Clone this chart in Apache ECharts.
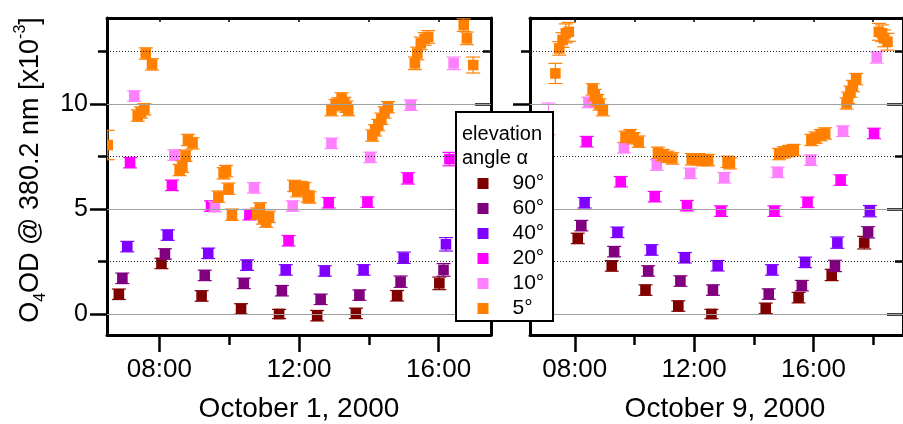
<!DOCTYPE html>
<html>
<head>
<meta charset="utf-8">
<script src="https://cdn.jsdelivr.net/npm/echarts@6/dist/echarts.min.js"></script>
<style>
html,body{margin:0;padding:0;background:#fff;}
#chart{width:903px;height:424px;}
</style>
</head>
<body>
<div id="chart"></div>
<script>
// ---------------- data (hour of day, O4 OD x1e-3, error) ----------------
const angleNames = ['90°', '60°', '40°', '20°', '10°', '5°'];
const angleColors = ['#800000', '#800080', '#8000ff', '#ff00ff', '#ff80ff', '#ff8000'];

const oct1_a90 = [[6.84,0.94,0.25],[8.06,2.41,0.25],[9.21,0.86,0.25],[10.34,0.24,0.25],[11.43,0.0,0.22],[12.52,-0.08,0.25],[13.63,0.03,0.25],[14.81,0.87,0.25],[16.02,1.46,0.3]];
const oct1_a60 = [[6.94,1.70,0.25],[8.16,2.86,0.25],[9.30,1.84,0.25],[10.42,1.46,0.25],[11.51,1.11,0.25],[12.62,0.70,0.25],[13.73,0.90,0.25],[14.91,1.54,0.27],[16.14,2.10,0.3]];
const oct1_a40 = [[7.08,3.21,0.25],[8.24,3.76,0.25],[9.40,2.89,0.25],[10.51,2.33,0.25],[11.62,2.10,0.25],[12.74,2.05,0.25],[13.85,2.10,0.25],[15.00,2.68,0.27],[16.21,3.32,0.32]];
const oct1_a20 = [[7.16,7.21,0.25],[8.36,6.13,0.25],[9.48,5.14,0.25],[10.58,4.73,0.25],[11.70,3.49,0.25],[12.85,5.30,0.25],[13.96,5.33,0.25],[15.12,6.46,0.27],[16.31,7.38,0.32]];
const oct1_a10 = [[7.28,10.38,0.25],[8.43,7.57,0.25],[9.59,5.11,0.25],[10.71,6.01,0.25],[11.82,5.14,0.25],[12.93,8.13,0.25],[14.04,7.46,0.25],[15.20,9.95,0.25],[16.43,11.94,0.3]];
const oct1_a5 = [[6.52,8.05,0.7],[7.38,9.45,0.27],[7.47,9.6,0.27],[7.57,9.75,0.27],[7.61,12.41,0.27],[7.79,11.89,0.27],
  [8.58,6.86,0.27],[8.66,7.02,0.27],[8.75,7.54,0.27],[8.82,8.29,0.27],[8.95,8.13,0.27],
  [9.69,5.59,0.27],[9.84,6.70,0.27],[9.91,6.81,0.27],[9.98,5.97,0.27],[10.08,4.73,0.27],
  [10.80,4.78,0.27],[10.88,5.03,0.27],[10.97,4.55,0.27],[11.06,4.40,0.27],[11.14,4.63,0.27],
  [11.86,6.10,0.27],[11.95,5.85,0.27],[12.05,6.05,0.27],[12.15,6.00,0.27],[12.25,5.60,0.27],[12.30,5.55,0.27],
  [12.93,9.71,0.27],[13.05,9.95,0.27],[13.12,10.03,0.27],[13.22,10.27,0.27],[13.30,10.05,0.27],[13.36,9.87,0.27],[13.41,9.71,0.27],
  [14.10,8.50,0.27],[14.18,8.75,0.27],[14.27,9.00,0.27],[14.36,9.30,0.27],[14.45,9.60,0.27],[14.55,9.85,0.27],
  [15.32,11.94,0.3],[15.39,12.41,0.3],[15.49,12.89,0.3],[15.60,13.10,0.3],[15.70,13.20,0.3],
  [16.72,13.76,0.3],[16.81,13.13,0.3],[16.99,11.86,0.38]];

const oct9_a90 = [[8.10,3.60,0.25],[9.24,2.29,0.25],[10.37,1.14,0.25],[11.47,0.38,0.25],[12.58,0.0,0.22],[14.40,0.27,0.25],[15.50,0.78,0.25],[16.61,1.86,0.27],[17.70,3.40,0.3]];
const oct9_a60 = [[8.22,4.21,0.25],[9.32,2.97,0.25],[10.46,2.05,0.25],[11.54,1.57,0.25],[12.63,1.14,0.25],[14.50,0.95,0.25],[15.61,1.35,0.25],[16.72,2.29,0.27],[17.83,3.89,0.27]];
const oct9_a40 = [[8.33,5.30,0.25],[9.43,3.89,0.25],[10.57,3.05,0.25],[11.69,2.68,0.25],[12.79,2.30,0.25],[14.61,2.10,0.25],[15.72,2.46,0.25],[16.80,3.40,0.27],[17.89,4.90,0.27]];
const oct9_a20 = [[8.40,8.21,0.25],[9.54,6.30,0.25],[10.68,5.59,0.25],[11.76,5.16,0.25],[12.90,4.90,0.25],[14.69,4.90,0.25],[15.80,5.32,0.25],[16.91,6.38,0.25],[18.03,8.60,0.25]];
const oct9_a10 = [[7.12,9.30,0.75],[8.46,10.08,0.25],[9.65,7.92,0.25],[10.75,7.10,0.25],[11.87,6.70,0.25],[13.01,6.49,0.25],[14.80,6.75,0.25],[15.91,7.33,0.25],[16.99,8.71,0.25],[18.12,12.22,0.27]];
const oct9_a5 = [[7.35,11.46,0.48],[7.48,12.65,0.32],[7.59,13.05,0.35],[7.70,13.37,0.45],[7.80,13.44,0.45],
  [8.60,10.70,0.27],[8.67,10.43,0.27],[8.76,10.19,0.27],[8.83,9.98,0.27],[8.94,9.71,0.27],
  [9.70,8.44,0.27],[9.86,8.52,0.27],[9.97,8.37,0.27],[10.14,8.21,0.27],
  [10.79,7.68,0.27],[10.95,7.57,0.27],[11.11,7.49,0.27],[11.27,7.41,0.27],
  [11.92,7.37,0.27],[12.14,7.37,0.27],[12.30,7.33,0.27],[12.47,7.33,0.27],[13.12,7.25,0.27],[13.20,7.18,0.27],
  [14.85,7.62,0.27],[15.01,7.70,0.27],[15.18,7.76,0.27],[15.34,7.81,0.27],
  [15.93,8.29,0.27],[16.07,8.40,0.27],[16.24,8.52,0.27],[16.39,8.60,0.27],
  [17.11,10.03,0.27],[17.16,10.30,0.27],[17.24,10.59,0.27],[17.32,10.86,0.27],[17.43,11.19,0.27],
  [18.19,13.44,0.4],[18.30,13.37,0.4],[18.37,13.13,0.4],[18.48,12.97,0.4]];

const oct1Series = [oct1_a90, oct1_a60, oct1_a40, oct1_a20, oct1_a10, oct1_a5];
const oct9Series = [oct9_a90, oct9_a60, oct9_a40, oct9_a20, oct9_a10, oct9_a5];

const xMajorTicks = [8, 12, 16];
const xMinorTicksL = [10, 14];
const xMinorTicksR = [10, 14, 18];
const xTopTicksL = [8, 10, 12, 14, 16];
const xTopTicksR = [8, 10, 12, 14, 16, 18];
const yMajorTicks = [0, 5, 10];
const yMinorTicks = [2.5, 7.5, 12.5];
const panelTitles = ['October 1, 2000', 'October 9, 2000'];

// ---------------- chart ----------------
const FONT = '"Liberation Sans", Arial, Helvetica, sans-serif';
const chart = echarts.init(document.getElementById('chart'), null, {renderer: 'canvas'});

const grids = [
  {left: 107, top: 18, width: 384, height: 317},
  {left: 530, top: 18, width: 384, height: 317}
];
const xRanges = [[6.5, 17.5], [6.5, 19.0]];
const yRange = [-1, 14.1];
const fmtHour = v => (v < 10 ? '0' : '') + v + ':00';

const xAxes = [], yAxes = [];
[0, 1].forEach(g => {
  const [mn, mx] = xRanges[g];
  // bottom major
  xAxes.push({type: 'value', gridIndex: g, position: 'bottom', min: mn, max: mx,
    axisLine: {show: true, onZero: false, lineStyle: {color: '#000', width: 3}},
    axisTick: {show: true, inside: false, length: 17, customValues: xMajorTicks, lineStyle: {color: '#000', width: 2.5}},
    axisLabel: {show: true, customValues: xMajorTicks, formatter: fmtHour, margin: 22, color: '#000', fontSize: 26, fontFamily: FONT},
    splitLine: {show: false}});
  // bottom minor
  xAxes.push({type: 'value', gridIndex: g, position: 'bottom', min: mn, max: mx,
    axisLine: {show: false, onZero: false},
    axisTick: {show: true, inside: false, length: 10, customValues: g === 0 ? xMinorTicksL : xMinorTicksR, lineStyle: {color: '#000', width: 2.5}},
    axisLabel: {show: false}, splitLine: {show: false}});
  // top
  xAxes.push({type: 'value', gridIndex: g, position: 'top', min: mn, max: mx,
    axisLine: {show: true, onZero: false, lineStyle: {color: '#000', width: 3}},
    axisTick: {show: true, inside: true, length: 4, customValues: g === 0 ? xTopTicksL : xTopTicksR, lineStyle: {color: '#000', width: 1.5}},
    axisLabel: {show: false}, splitLine: {show: false}});

  // left major
  yAxes.push({type: 'value', gridIndex: g, position: 'left', min: yRange[0], max: yRange[1],
    axisLine: {show: true, onZero: false, lineStyle: {color: '#000', width: 3}},
    axisTick: {show: true, inside: false, length: 17, customValues: yMajorTicks, lineStyle: {color: '#000', width: 2.5}},
    axisLabel: {show: g === 0, customValues: yMajorTicks, margin: 19, color: '#000', fontSize: 25, fontFamily: FONT},
    splitLine: {show: false}});
  // left minor
  yAxes.push({type: 'value', gridIndex: g, position: 'left', min: yRange[0], max: yRange[1],
    axisLine: {show: false, onZero: false},
    axisTick: {show: true, inside: false, length: 9, customValues: yMinorTicks, lineStyle: {color: '#000', width: 2.5}},
    axisLabel: {show: false}, splitLine: {show: false}});
  // right major
  yAxes.push({type: 'value', gridIndex: g, position: 'right', min: yRange[0], max: yRange[1],
    axisLine: {show: true, onZero: false, lineStyle: {color: '#000', width: 3}},
    axisTick: {show: true, inside: true, length: 16, customValues: yMajorTicks, lineStyle: {color: '#000', width: 2.5}},
    axisLabel: {show: false}, splitLine: {show: false}});
  // right minor
  yAxes.push({type: 'value', gridIndex: g, position: 'right', min: yRange[0], max: yRange[1],
    axisLine: {show: false, onZero: false},
    axisTick: {show: true, inside: true, length: 8, customValues: yMinorTicks, lineStyle: {color: '#000', width: 2.5}},
    axisLabel: {show: false}, splitLine: {show: false}});
});

function renderErr(params, api) {
  const x = api.value(0), y = api.value(1), e = api.value(2);
  const c = api.coord([x, y]);
  const t = api.coord([x, y + e]);
  const b = api.coord([x, y - e]);
  const color = api.visual('color');
  const cw = 7, s = 5.3;
  const ls = {stroke: color, lineWidth: 1.2};
  return {
    type: 'group',
    children: [
      {type: 'line', shape: {x1: c[0], y1: t[1], x2: c[0], y2: b[1]}, style: ls},
      {type: 'line', shape: {x1: c[0] - cw, y1: t[1], x2: c[0] + cw, y2: t[1]}, style: ls},
      {type: 'line', shape: {x1: c[0] - cw, y1: b[1], x2: c[0] + cw, y2: b[1]}, style: ls},
      {type: 'rect', shape: {x: c[0] - s, y: c[1] - s, width: 2 * s, height: 2 * s}, style: {fill: color}}
    ]
  };
}

const series = [];
[0, 1].forEach(g => {
  const xi = g * 3, yi = g * 4;
  // grid lines
  series.push({type: 'line', xAxisIndex: xi, yAxisIndex: yi, data: [], silent: true, z: 1,
    markLine: {silent: true, symbol: ['none', 'none'], label: {show: false}, animation: false,
      data: yMajorTicks.map(v => ({yAxis: v, lineStyle: {color: '#a0a0a0', width: 1.2, type: 'solid'}}))
        .concat(yMinorTicks.map(v => ({yAxis: v, lineStyle: {color: '#222', width: 1, type: [1, 2]}})))}});
  const sets = g === 0 ? oct1Series : oct9Series;
  sets.forEach((d, i) => {
    series.push({type: 'custom', name: angleNames[i], xAxisIndex: xi, yAxisIndex: yi,
      data: d, encode: {x: 0, y: 1}, renderItem: renderErr, clip: true, z: 2,
      itemStyle: {color: angleColors[i]}});
  });
});

const option = {
  animation: false,
  backgroundColor: '#fff',
  grid: grids,
  xAxis: xAxes,
  yAxis: yAxes,
  series: series,
  legend: {
    data: angleNames.map(n => ({name: n, icon: 'rect'})),
    orient: 'vertical', left: 477.5, top: 171, padding: 0, itemWidth: 11, itemHeight: 11, itemGap: 0,
    z: 60, selectedMode: false,
    textStyle: {fontSize: 21, lineHeight: 25, color: '#000', fontFamily: FONT, padding: [0, 0, 0, 19]}
  },
  graphic: [
    {type: 'text', x: 31, y: 170, rotation: Math.PI / 2, z: 10,
      style: {text: '{a|O}{s|4}{a|OD @ 380.2 nm [x10}{p|-3}{a|]}', align: 'center', verticalAlign: 'middle',
        rich: {
          a: {fontSize: 27, fontFamily: FONT, fill: '#000', lineHeight: 36, verticalAlign: 'middle'},
          s: {fontSize: 16, fontFamily: FONT, fill: '#000', lineHeight: 16, verticalAlign: 'bottom'},
          p: {fontSize: 16, fontFamily: FONT, fill: '#000', lineHeight: 16, verticalAlign: 'top'}
        }}},
    {type: 'text', x: 299, y: 409, z: 10,
      style: {text: panelTitles[0], fontSize: 28, fontFamily: FONT, fill: '#000', align: 'center', verticalAlign: 'middle'}},
    {type: 'text', x: 725, y: 409, z: 10,
      style: {text: panelTitles[1], fontSize: 28, fontFamily: FONT, fill: '#000', align: 'center', verticalAlign: 'middle'}},
    {type: 'rect', z: 50, shape: {x: 456, y: 112, width: 97, height: 209},
      style: {fill: '#fff', stroke: '#000', lineWidth: 2}},
    {type: 'text', x: 462, y: 122, z: 51,
      style: {text: 'elevation\nangle α', fontSize: 20, lineHeight: 24, fontFamily: FONT, fill: '#000', align: 'left', verticalAlign: 'top'}}
  ]
};
chart.setOption(option);
</script>
</body>
</html>
